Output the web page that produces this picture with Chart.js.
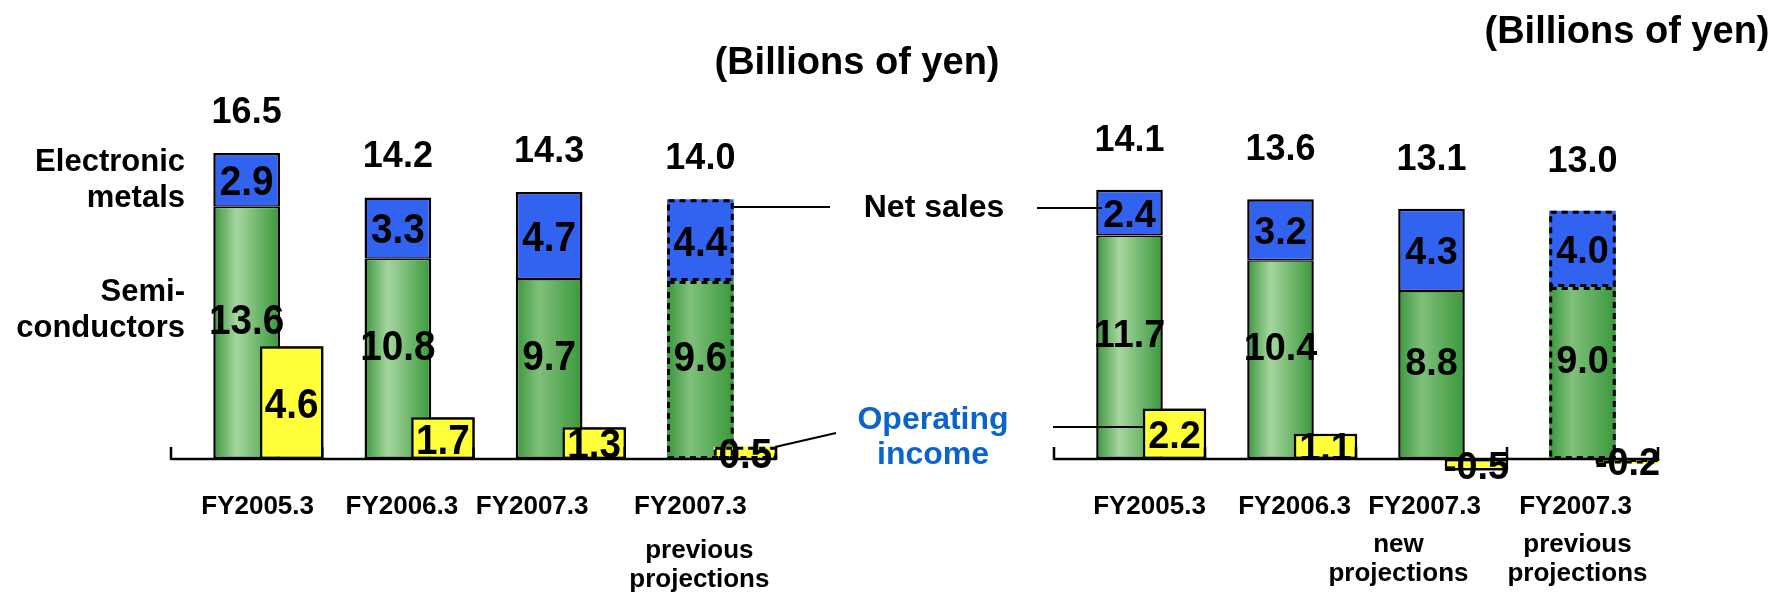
<!DOCTYPE html>
<html>
<head>
<meta charset="utf-8">
<script src="https://cdn.jsdelivr.net/npm/chart.js@4.4.1/dist/chart.umd.min.js"></script>
<style>
  html, body { margin: 0; padding: 0; background: #fff; }
  #wrap { position: relative; width: 1777px; height: 595px; overflow: hidden;
          font-family: "Liberation Sans", Arial, sans-serif; font-weight: bold; color: #000; }
  canvas { position: absolute; left: 0; top: 0; }
  svg { position: absolute; left: 0; top: 0; }
  .t { position: absolute; white-space: nowrap; }
</style>
</head>
<body>
<div id="wrap">
  <canvas id="leftChart" width="1777" height="595"></canvas>
  <canvas id="rightChart" width="1777" height="595"></canvas>
  <svg width="1777" height="595">
    <g stroke="#000" stroke-width="2.2">
      <line x1="734" y1="207" x2="830" y2="207"/>
      <line x1="1037" y1="208" x2="1102" y2="208"/>
      <line x1="775" y1="447" x2="836" y2="433"/>
      <line x1="1053" y1="427" x2="1144" y2="427"/>
    </g>
  </svg>
  <div class="t" style="left:657px;top:39px;width:400px;text-align:center;font-size:38px;line-height:44px;">(Billions of yen)</div>
  <div class="t" style="left:1427px;top:8px;width:400px;text-align:center;font-size:38px;line-height:44px;">(Billions of yen)</div>
  <div class="t" style="left:0;top:143px;width:185px;text-align:right;font-size:31px;line-height:36px;">Electronic<br>metals</div>
  <div class="t" style="left:0;top:273px;width:185px;text-align:right;font-size:31px;line-height:36px;">Semi-<br>conductors</div>
  <div class="t" style="left:834px;top:188px;width:200px;text-align:center;font-size:32px;line-height:36px;">Net sales</div>
  <div class="t" style="left:833px;top:401px;width:200px;text-align:center;font-size:32px;line-height:35px;color:#0a64cc;">Operating<br>income</div>
</div>
<script>
// left panel
const leftTicks = [['FY2005.3'], ['FY2006.3'], ['FY2007.3'], ['FY2007.3', 'previous', 'projections']];
const leftSemis = [13.6, 10.8, 9.7, 9.6];
const leftMetals = [2.9, 3.3, 4.7, 4.4];
const leftTotals = [16.5, 14.2, 14.3, 14.0];
const leftIncome = [4.6, 1.7, 1.3, 0.5];

// right panel
const rightTicks = [['FY2005.3'], ['FY2006.3'], ['FY2007.3', 'new', 'projections'], ['FY2007.3', 'previous', 'projections']];
const rightSemis = [11.7, 10.4, 8.8, 9.0];
const rightMetals = [2.4, 3.2, 4.3, 4.0];
const rightTotals = [14.1, 13.6, 13.1, 13.0];
const rightIncome = [2.2, 1.1, -0.5, -0.2];

// projection bars get a dashed outline
const projected = [false, false, false, true];

const FONT = '"Liberation Sans", Arial, sans-serif';
const TOP = 80, BOTTOM = 500, ZERO = 459;
const CAT_PCT = 0.894;

function range(pxPerUnit) {
    return { min: -(BOTTOM - ZERO) / pxPerUnit, max: (ZERO - TOP) / pxPerUnit };
}

function greenFill(lights, n) {
    return (c) => {
        const xs = c.chart.scales.x;
        if (!xs || c.dataIndex === undefined) return lights[0];
        const cx = xs.getPixelForValue(c.dataIndex);
        const w = (xs.width / n) * CAT_PCT / 3 * 1.48;
        if (!isFinite(cx) || !isFinite(w) || w <= 0) return lights[c.dataIndex];
        const g = c.chart.ctx.createLinearGradient(cx - w / 2, 0, cx + w / 2, 0);
        g.addColorStop(0, '#3b973c');
        g.addColorStop(0.35, lights[c.dataIndex]);
        g.addColorStop(1, '#3a983a');
        return g;
    };
}

function border(sides) {
    return (c) => projected[c.dataIndex] ? 0 : sides;
}

function squeezed(ctx, txt, x, y, sx) {
    ctx.save();
    ctx.translate(x, y);
    ctx.scale(sx, 1);
    ctx.fillText(txt, 0, 0);
    ctx.restore();
}

function labelPlugin(p) {
    return {
        id: 'labels',
        afterDatasetsDraw(chart) {
            const ctx = chart.ctx;
            const xs = chart.scales.x, ys = chart.scales.y;
            const y0 = ys.getPixelForValue(0);
            const n = p.ticks.length;

            // operating income sits on top of the stacks
            chart.getDatasetMeta(3).controller.draw();

            ctx.save();
            ctx.strokeStyle = '#000';
            ctx.lineWidth = 3;
            ctx.setLineDash([6, 5]);
            [1, 2, 3].forEach(di => {
                chart.getDatasetMeta(di).data.forEach((el, i) => {
                    if (!projected[i]) return;
                    const { x, y, base, width } = el.getProps(['x', 'y', 'base', 'width'], true);
                    const top = Math.min(y, base), h = Math.abs(base - y);
                    ctx.strokeRect(x - width / 2 + 1.5, top + 1.5, width - 3, Math.max(h - 3, 1));
                });
            });

            // axis line with upward ticks
            ctx.setLineDash([]);
            ctx.lineWidth = 2.5;
            ctx.beginPath();
            ctx.moveTo(xs.left, y0);
            ctx.lineTo(xs.right, y0);
            for (let k = 0; k <= n; k++) {
                const tx = xs.left + k * xs.width / n;
                ctx.moveTo(tx, y0 + 1);
                ctx.lineTo(tx, y0 - 12);
            }
            ctx.stroke();

            ctx.fillStyle = '#000';
            ctx.textAlign = 'center';
            ctx.textBaseline = 'alphabetic';

            const inner = p.innerFont;
            ctx.font = 'bold ' + inner + 'px ' + FONT;
            const put = (di, values, dy) => {
                chart.getDatasetMeta(di).data.forEach((el, i) => {
                    const { x, y, base } = el.getProps(['x', 'y', 'base'], true);
                    squeezed(ctx, values[i].toFixed(1), x, (y + base) / 2 + dy + 0.358 * inner, p.innerScale);
                });
            };
            put(1, p.semis, -14);
            put(2, p.metals, 0);
            put(3, p.income, 0);

            ctx.font = 'bold 36px ' + FONT;
            chart.getDatasetMeta(2).data.forEach((el, i) => {
                ctx.fillText(p.totals[i].toFixed(1), el.x, el.y - p.totalGap + 13);
            });

            ctx.font = 'bold 26px ' + FONT;
            p.ticks.forEach((lines, i) => {
                const cx = xs.getPixelForValue(i);
                lines.forEach((txt, j) => {
                    const dx = j === 0 ? p.nudgeFy[i] : p.nudgeSub[i];
                    ctx.fillText(txt, cx + dx, y0 + p.lineY[j]);
                });
            });
            ctx.restore();
        }
    };
}

function makePanel(canvasId, p) {
    const light = ['#a6d6a0', '#a6d6a0', '#80c07c', '#80c07c'];
    return new Chart(document.getElementById(canvasId), {
        type: 'bar',
        data: {
            labels: p.ticks.map(l => l.join(' ')),
            datasets: [
                { label: 'pad', data: p.semis.map(() => null), stack: 'pad' },
                {
                    label: 'Semiconductors', data: p.semis, stack: 'sales',
                    backgroundColor: greenFill(light, p.ticks.length), borderColor: '#000',
                    borderWidth: border({ top: 1.5, left: 2.5, right: 2.5, bottom: 2.5 }),
                    borderSkipped: false, barPercentage: 1.48
                },
                {
                    label: 'Electronic metals', data: p.metals, stack: 'sales',
                    backgroundColor: '#3163f0', borderColor: '#000',
                    borderWidth: border({ top: 2.5, left: 2.5, right: 2.5, bottom: 1.5 }),
                    borderSkipped: false, barPercentage: 1.48
                },
                {
                    label: 'Operating income', data: p.income, stack: 'income', yAxisID: 'y2',
                    backgroundColor: '#ffff3a', borderColor: '#000',
                    borderWidth: border(2.5), borderSkipped: false, barPercentage: 1.41
                }
            ]
        },
        options: {
            responsive: false,
            animation: false,
            devicePixelRatio: 1,
            layout: { padding: { left: p.left, right: 1777 - p.right, top: TOP, bottom: 595 - BOTTOM } },
            datasets: { bar: { categoryPercentage: CAT_PCT } },
            plugins: { legend: { display: false }, tooltip: { enabled: false } },
            scales: {
                x: { display: false },
                y: Object.assign({ display: false, stacked: true }, range(p.salesPx)),
                y2: Object.assign({ display: false, position: 'right' }, range(p.incomePx))
            }
        },
        plugins: [labelPlugin(p)]
    });
}

makePanel('leftChart', {
    ticks: leftTicks, semis: leftSemis, metals: leftMetals, totals: leftTotals, income: leftIncome,
    left: 171, right: 776, salesPx: 18.55, incomePx: 24.5, totalGap: 43,
    innerFont: 43, innerScale: 0.9,
    lineY: [55, 99, 128], nudgeFy: [11, 4, -17, -10], nudgeSub: [0, 0, 0, -1]
});

makePanel('rightChart', {
    ticks: rightTicks, semis: rightSemis, metals: rightMetals, totals: rightTotals, income: rightIncome,
    left: 1054, right: 1658, salesPx: 19.1, incomePx: 23, totalGap: 52,
    innerFont: 39, innerScale: 0.97,
    lineY: [55, 93, 122], nudgeFy: [20, 14, -7, -7], nudgeSub: [0, 0, -33, -5]
});
</script>
</body>
</html>
